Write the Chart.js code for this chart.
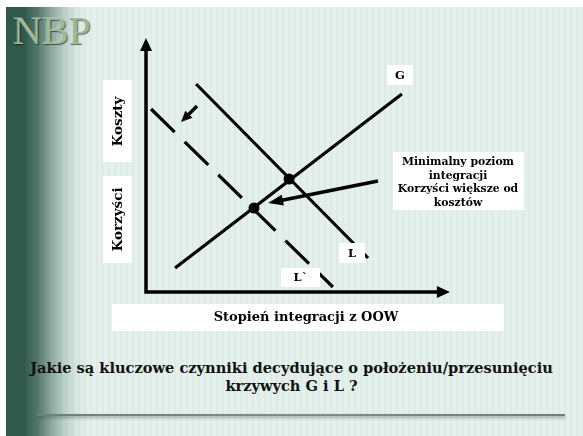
<!DOCTYPE html>
<html>
<head>
<meta charset="utf-8">
<script src="https://cdn.jsdelivr.net/npm/chart.js@4/dist/chart.umd.min.js"></script>
<style>
    html, body { margin: 0; padding: 0; }
    body { width: 583px; height: 436px; position: relative; overflow: hidden; background: #fff; }
    #slide {
        position: absolute; left: 6px; top: 7px; right: 0; bottom: 0;
        background:
            repeating-linear-gradient(90deg, rgba(40,90,70,0.035) 0 2px, rgba(255,255,255,0) 2px 6px),
            linear-gradient(90deg, #2e584a 0px, #30594c 18px, #557a6d 32px, #8faba1 46px, #c0d5cd 60px, #dae8e3 72px, #e4f0ec 84px, #e4f0ec 100%);
    }
    #logo {
        position: absolute; left: 13px; top: 7px;
        font: 40px "Liberation Serif", serif; color: #9fb896;
        text-shadow: 1px 1px 1px rgba(0,0,0,0.55), -1px -1px 0 rgba(255,255,255,0.25);
    }
    #question {
        position: absolute; left: 0; width: 583px; top: 359px;
        text-align: center; font: bold 14.6px "DejaVu Serif", serif; line-height: 18px; color: #111;
    }
    #rule {
        position: absolute; left: 37px; width: 528px; top: 414px; height: 2px;
        background: linear-gradient(90deg, #6c7f79, #7d8f8a 50%, #6c7f79);
        box-shadow: 0 2px 3px rgba(40,60,55,0.45);
    }
    #chart { position: absolute; left: 0; top: 0; }
</style>
</head>
<body>
<div id="slide"></div>
<div id="logo">NBP</div>
<div id="question">Jakie są kluczowe czynniki decydujące o położeniu/przesunięciu<br>krzywych G i L ?</div>
<div id="rule"></div>
<canvas id="chart" width="583" height="436"></canvas>
<script>
// values, in axis units (0..10 on both axes)
const curveG = [{ x: 0.97, y: 0.96 }, { x: 8.53, y: 7.92 }];
const curveL = [{ x: 1.67, y: 8.32 }, { x: 7.4, y: 1.36 }];
const curveLShifted = [{ x: 0.17, y: 7.32 }, { x: 6.23, y: 0.2 }];
const crossings = [{ x: 4.77, y: 4.52 }, { x: 3.6, y: 3.36 }];
const shiftArrow = [[1.7, 7.44], [1.17, 6.8]];
const noteArrow = [[7.73, 4.44], [4.07, 3.56]];
const axisTips = [[0, 10.16], [10.13, 0]];

const curveLabels = ['G', 'L', 'L`'];
const yLabels = ['Koszty', 'Korzyści'];
const xLabel = 'Stopień integracji z OOW';
const noteLines = ['Minimalny poziom', 'integracji', 'Korzyści większe od', 'kosztów'];

function drawArrow(ctx, from, to, headLen, headW, lineW) {
    const dx = to[0] - from[0];
    const dy = to[1] - from[1];
    const len = Math.sqrt(dx * dx + dy * dy);
    const ux = dx / len, uy = dy / len;
    const bx = to[0] - ux * headLen, by = to[1] - uy * headLen;
    ctx.save();
    ctx.strokeStyle = '#000';
    ctx.fillStyle = '#000';
    ctx.lineWidth = lineW;
    ctx.beginPath();
    ctx.moveTo(from[0], from[1]);
    ctx.lineTo(bx + ux * 2, by + uy * 2);
    ctx.stroke();
    ctx.beginPath();
    ctx.moveTo(to[0], to[1]);
    ctx.lineTo(bx - uy * headW / 2, by + ux * headW / 2);
    ctx.lineTo(bx + uy * headW / 2, by - ux * headW / 2);
    ctx.closePath();
    ctx.fill();
    ctx.restore();
}

function box(ctx, x, y, w, h) {
    ctx.fillStyle = '#fff';
    ctx.fillRect(x, y, w, h);
}

const slideMarks = {
    id: 'slideMarks',
    beforeDatasetsDraw(chart) {
        const { ctx, scales: { x, y } } = chart;
        const P = p => [x.getPixelForValue(p[0]), y.getPixelForValue(p[1])];
        const o = P([0, 0]);

        // axes with arrow heads
        const top = P(axisTips[0]);
        const right = P(axisTips[1]);
        ctx.save();
        ctx.strokeStyle = '#000';
        ctx.lineWidth = 3.5;
        ctx.lineJoin = 'miter';
        ctx.beginPath();
        ctx.moveTo(top[0], top[1] + 11);
        ctx.lineTo(o[0], o[1]);
        ctx.lineTo(right[0] - 11, right[1]);
        ctx.stroke();
        ctx.restore();
        drawArrow(ctx, [o[0], top[1] + 12], top, 13, 12, 3.5);
        drawArrow(ctx, [right[0] - 12, o[1]], right, 13, 12, 3.5);

        // side label boxes
        ctx.save();
        box(ctx, 103, 80, 29, 82);
        box(ctx, 103, 176, 29, 87);
        box(ctx, 112, 304, 392, 27);
        ctx.fillStyle = '#000';
        ctx.font = 'bold 13.5px "DejaVu Serif"';
        ctx.textAlign = 'center';
        ctx.textBaseline = 'middle';
        [[117.5, 121.5], [117.5, 219.5]].forEach((c, i) => {
            ctx.save();
            ctx.translate(c[0], c[1]);
            ctx.rotate(-Math.PI / 2);
            ctx.fillText(yLabels[i], 0, 1);
            ctx.restore();
        });
        ctx.font = 'bold 13px "DejaVu Serif"';
        ctx.fillText(xLabel, 306, 318);
        ctx.restore();
    },
    afterDatasetsDraw(chart) {
        const { ctx, scales: { x, y } } = chart;
        const P = p => [x.getPixelForValue(p[0]), y.getPixelForValue(p[1])];

        drawArrow(ctx, P(shiftArrow[0]), P(shiftArrow[1]), 11, 10, 3.5);
        drawArrow(ctx, P(noteArrow[0]), P(noteArrow[1]), 15, 11, 3.5);

        ctx.save();
        ctx.textAlign = 'center';
        ctx.textBaseline = 'middle';
        ctx.font = 'bold 11.5px "DejaVu Serif"';
        const labelBoxes = [[387, 65, 26, 20], [339, 243, 26, 20], [281, 268, 39, 19]];
        labelBoxes.forEach((b, i) => {
            box(ctx, b[0], b[1], b[2], b[3]);
            ctx.fillStyle = '#000';
            ctx.fillText(curveLabels[i], b[0] + b[2] / 2, b[1] + b[3] / 2 + 1);
        });

        box(ctx, 393, 152, 131, 58);
        ctx.fillStyle = '#000';
        ctx.font = 'bold 10.8px "DejaVu Serif"';
        noteLines.forEach((t, i) => ctx.fillText(t, 458, 162 + i * 13.7));
        ctx.restore();
    }
};

const lineStyle = { showLine: true, borderColor: '#000', borderWidth: 3.2, pointRadius: 0, clip: false, order: 2, borderCapStyle: 'butt' };

new Chart(document.getElementById('chart'), {
    type: 'scatter',
    data: {
        datasets: [
            { label: 'G', data: curveG, ...lineStyle },
            { label: 'L', data: curveL, ...lineStyle },
            { label: 'L`', data: curveLShifted, ...lineStyle, borderDash: [33, 14] },
            {
                label: 'crossings', data: crossings, showLine: false, order: 1, clip: false,
                pointRadius: 5.5, pointBackgroundColor: '#000', pointBorderWidth: 0
            }
        ]
    },
    options: {
        responsive: false,
        animation: false,
        events: [],
        layout: { padding: { left: 146, right: 137, top: 42, bottom: 144 } },
        scales: {
            x: { type: 'linear', min: 0, max: 10, display: false },
            y: { type: 'linear', min: 0, max: 10, display: false }
        },
        plugins: { legend: { display: false }, tooltip: { enabled: false } }
    },
    plugins: [slideMarks]
});
</script>
</body>
</html>
